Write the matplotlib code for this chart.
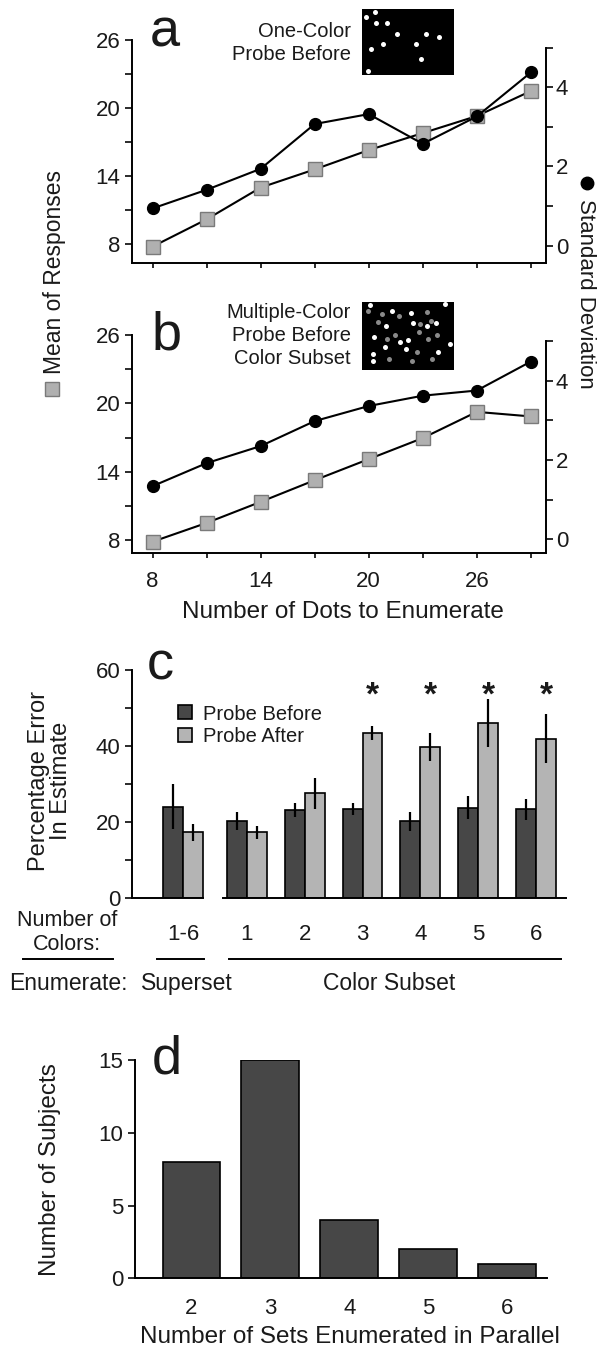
import numpy as np
import matplotlib.pyplot as plt
from matplotlib.lines import Line2D
from matplotlib.patches import Rectangle

plt.rcParams['font.family'] = ['Liberation Sans', 'DejaVu Sans']
plt.rcParams['text.color'] = '#1a1a1a'
plt.rcParams['xtick.color'] = '#1a1a1a'
plt.rcParams['ytick.color'] = '#1a1a1a'

# panels a and b: number of dots to enumerate
n_dots = [8, 11, 14, 17, 20, 23, 26, 29]
mean_a = [7.8, 10.2, 13.0, 14.6, 16.3, 17.8, 19.3, 21.5]
sd_a = [0.94, 1.41, 1.94, 3.07, 3.32, 2.57, 3.26, 4.37]
mean_b = [7.85, 9.5, 11.35, 13.25, 15.1, 16.95, 19.25, 18.85]
sd_b = [1.34, 1.92, 2.35, 2.98, 3.36, 3.62, 3.75, 4.48]

# panel c: percentage error in estimate
color_groups = ['1-6', '1', '2', '3', '4', '5', '6']
err_before = [24.0, 20.2, 23.1, 23.3, 20.1, 23.7, 23.3]
sem_before = [5.9, 2.3, 1.8, 1.6, 2.6, 3.0, 2.75]
err_after = [17.2, 17.2, 27.5, 43.4, 39.7, 46.0, 41.9]
sem_after = [2.2, 1.7, 4.0, 1.9, 3.6, 6.4, 6.5]
significant = [False, False, False, True, True, True, True]

# panel d: sets enumerated in parallel
n_sets = [2, 3, 4, 5, 6]
n_subjects = [8, 15, 4, 2, 1]

# stimulus thumbnails (fraction of thumbnail width / height from top)
dots_one_color = [(0.043, 0.126), (0.148, 0.05), (0.155, 0.216), (0.271, 0.216),
                  (0.386, 0.372), (0.693, 0.372), (0.838, 0.427), (0.231, 0.528),
                  (0.585, 0.533), (0.101, 0.598), (0.646, 0.759), (0.069, 0.94)]
dots_multi_white = [(0.087, 0.049), (0.903, 0.034), (0.329, 0.137), (0.538, 0.161),
                    (0.260, 0.356), (0.560, 0.307), (0.704, 0.356), (0.809, 0.317),
                    (0.134, 0.512), (0.412, 0.585), (0.505, 0.561), (0.253, 0.668),
                    (0.477, 0.693), (0.957, 0.624), (0.830, 0.732), (0.123, 0.771),
                    (0.123, 0.868)]
dots_multi_gray = [(0.069, 0.132), (0.217, 0.180), (0.404, 0.205), (0.704, 0.146),
                   (0.181, 0.302), (0.628, 0.332), (0.747, 0.283), (0.271, 0.541),
                   (0.357, 0.488), (0.621, 0.439), (0.718, 0.541), (0.812, 0.493),
                   (0.603, 0.741), (0.296, 0.844), (0.549, 0.868), (0.765, 0.844)]

DARK = '#474747'
LIGHT = '#b4b4b4'
SQ_FACE = '#b0b0b0'
SQ_EDGE = '#7a7a7a'
TICK_FS = 16
LABEL_FS = 17.5
SMALL_FS = 14.5

W, H = 599, 1349
fig = plt.figure(figsize=(W / 100, H / 100), dpi=100)


def box(l, t, r, b):
    return [l / W, 1 - b / H, (r - l) / W, (b - t) / H]


def ftext(x, y, s, **kw):
    return fig.text(x / W, 1 - y / H, s, **kw)


def thumbnail(rect, white, gray):
    axi = fig.add_axes(rect)
    axi.set_facecolor('black')
    axi.set_xlim(0, 1)
    axi.set_ylim(1, 0)
    axi.set_xticks([])
    axi.set_yticks([])
    for s in axi.spines.values():
        s.set_visible(False)
    if gray:
        gx, gy = zip(*gray)
        axi.plot(gx, gy, 'o', color='#8a8a8a', ms=3.6, mew=0)
    wx, wy = zip(*white)
    axi.plot(wx, wy, 'o', color='white', ms=3.6, mew=0)


def line_panel(rect, ylo, rlo, rhi, mean, sd, show_x):
    ax = fig.add_axes(rect)
    ax.plot(n_dots, mean, color='black', lw=1.5, marker='s', ms=9.5,
            mfc=SQ_FACE, mec=SQ_EDGE, mew=1, zorder=3, clip_on=False)
    ax.set_xlim(6.84, 29.86)
    ax.set_ylim(ylo, 26)
    ax.set_yticks([8, 14, 20, 26])
    ax.set_yticks([11, 17, 23], minor=True)
    ax.set_xticks([8, 14, 20, 26])
    ax.set_xticks([11, 17, 23, 29], minor=True)
    ax.tick_params(axis='y', which='both', length=4.8, width=1.3, pad=3.5,
                   labelsize=TICK_FS)
    ax.tick_params(axis='x', which='both', length=3.4, width=1.3, pad=10,
                   labelsize=TICK_FS, labelbottom=show_x)
    for k in ['top', 'right']:
        ax.spines[k].set_visible(False)
    for k in ['left', 'bottom']:
        ax.spines[k].set_linewidth(1.4)

    ax2 = ax.twinx()
    ax2.plot(n_dots, sd, color='black', lw=1.5, marker='o', ms=8.5,
             zorder=3, clip_on=False)
    ax2.set_ylim(rlo, rhi)
    ax2.set_yticks([0, 2, 4])
    ax2.set_yticks([1, 3, 5], minor=True)
    ax2.tick_params(axis='y', which='both', length=4.8, width=1.3, pad=2,
                    labelsize=TICK_FS)
    for k in ['top', 'left', 'bottom']:
        ax2.spines[k].set_visible(False)
    ax2.spines['right'].set_linewidth(1.4)
    ax2.spines['right'].set_bounds(rlo, 5)
    return ax, ax2


# ---- panel a
line_panel(box(131.7, 40, 546.3, 262.7), 6.38, -0.43, 5.19, mean_a, sd_a, False)
ftext(150, 46.7, 'a', fontsize=39, va='baseline')
thumbnail(box(361.7, 9, 454, 75.3), dots_one_color, None)
ftext(350.7, 31.7, 'One-Color', fontsize=SMALL_FS, ha='right', va='center')
ftext(350.7, 54, 'Probe Before', fontsize=SMALL_FS, ha='right', va='center')

# ---- panel b
line_panel(box(131.7, 335, 546.3, 552.7), 6.885, -0.338, 5.15, mean_b, sd_b, True)
ftext(151.7, 350, 'b', fontsize=39, va='baseline')
thumbnail(box(361.7, 301.7, 454, 370), dots_multi_white, dots_multi_gray)
for yy, s in zip([312.7, 336, 359], ['Multiple-Color', 'Probe Before', 'Color Subset']):
    ftext(350.7, yy, s, fontsize=SMALL_FS, ha='right', va='center')
ftext(342.9, 612, 'Number of Dots to Enumerate', fontsize=LABEL_FS,
      ha='center', va='center')

# shared axis labels for a and b
ftext(54, 272, 'Mean of Responses', fontsize=16.5, rotation=90,
      ha='center', va='center')
fig.add_artist(Line2D([52 / W], [1 - 389 / H], transform=fig.transFigure,
                      marker='s', ms=10, mfc=SQ_FACE, mec=SQ_EDGE, mew=1, ls=''))
ftext(585.5, 294, 'Standard Deviation', fontsize=16, rotation=270,
      ha='center', va='center')
fig.add_artist(Line2D([587 / W], [1 - 182.5 / H], transform=fig.transFigure,
                      marker='o', ms=9, color='black', ls=''))

# ---- panel c
ax_c = fig.add_axes(box(131.7, 670, 565.7, 897.7))
gap = 0.095
pos = np.array([0.0] + [i + gap for i in range(1, 7)])
w = 0.345
ekw = dict(ecolor='black', elinewidth=1.6, capsize=0)
ax_c.bar(pos - w / 2, err_before, w, yerr=sem_before, color=DARK,
         edgecolor='black', lw=1.2, error_kw=ekw, zorder=2)
ax_c.bar(pos + w / 2, err_after, w, yerr=sem_after, color=LIGHT,
         edgecolor='black', lw=1.2, error_kw=ekw, zorder=2)
for p, sig in zip(pos, significant):
    if sig:
        ax_c.text(p + w / 2, 51.0, '*', fontsize=24, fontweight='bold',
                  ha='center', va='baseline')
ax_c.set_xlim(-0.891, 6.604)
ax_c.set_ylim(0, 60)
ax_c.set_yticks([0, 20, 40, 60])
ax_c.set_yticks([10, 30, 50], minor=True)
ax_c.tick_params(axis='y', which='both', length=4.8, width=1.3, pad=3.5,
                 labelsize=TICK_FS)
ax_c.set_xticks(pos, color_groups)
ax_c.tick_params(axis='x', length=0, pad=19, labelsize=TICK_FS)
for k in ['top', 'right', 'bottom']:
    ax_c.spines[k].set_visible(False)
ax_c.spines['left'].set_linewidth(1.4)
xt = ax_c.get_xaxis_transform()
ax_c.plot([-0.891, pos[0] + w], [0, 0], transform=xt, color='black', lw=1.4,
          clip_on=False, zorder=3)
ax_c.plot([pos[1] - w - 0.06, 6.604], [0, 0], transform=xt, color='black',
          lw=1.4, clip_on=False, zorder=3)
ftext(147, 680, 'c', fontsize=39, va='baseline')
ftext(50, 781, 'Percentage Error\nIn Estimate', fontsize=17, rotation=90,
      ha='center', va='center', linespacing=1.05, multialignment='center')

for yc, col, lab in [(712, DARK, 'Probe Before'), (734.5, LIGHT, 'Probe After')]:
    fig.add_artist(Rectangle((178.3 / W, 1 - (yc + 7) / H), 13.4 / W, 14 / H,
                             transform=fig.transFigure, fc=col, ec='black', lw=1.2))
    ftext(203.3, yc, lab, fontsize=SMALL_FS, va='center_baseline')

ftext(66.7, 920.5, 'Number of', fontsize=15.5, ha='center', va='center')
ftext(66.7, 944.5, 'Colors:', fontsize=15.5, ha='center', va='center')
for x0, x1 in [(22.7, 113.3), (157.3, 204), (229.3, 560.7)]:
    fig.add_artist(Line2D([x0 / W, x1 / W], [1 - 959 / H] * 2,
                          transform=fig.transFigure, color='black', lw=1.4))
ftext(9, 983.3, 'Enumerate:', fontsize=16.5, ha='left', va='center')
ftext(186.5, 983.3, 'Superset', fontsize=16.5, ha='center', va='center')
ftext(389, 983.3, 'Color Subset', fontsize=16.5, ha='center', va='center')

# ---- panel d
ax_d = fig.add_axes(box(135, 1060, 547.3, 1278.3))
ax_d.bar(n_sets, n_subjects, 0.73, color=DARK, edgecolor='black', lw=1.2)
ax_d.set_xlim(1.286, 6.51)
ax_d.set_ylim(0, 15)
ax_d.set_yticks([0, 5, 10, 15])
ax_d.set_xticks(n_sets)
ax_d.tick_params(axis='y', length=4.8, width=1.3, pad=3.5, labelsize=TICK_FS)
ax_d.tick_params(axis='x', length=0, pad=14, labelsize=TICK_FS)
for k in ['top', 'right']:
    ax_d.spines[k].set_visible(False)
for k in ['left', 'bottom']:
    ax_d.spines[k].set_linewidth(1.4)
ftext(151.7, 1073.3, 'd', fontsize=39, va='baseline')
ftext(50, 1170, 'Number of Subjects', fontsize=LABEL_FS, rotation=90,
      ha='center', va='center')
ftext(349.5, 1336.7, 'Number of Sets Enumerated in Parallel', fontsize=LABEL_FS,
      ha='center', va='center')

fig.savefig('out.png', dpi=100)
